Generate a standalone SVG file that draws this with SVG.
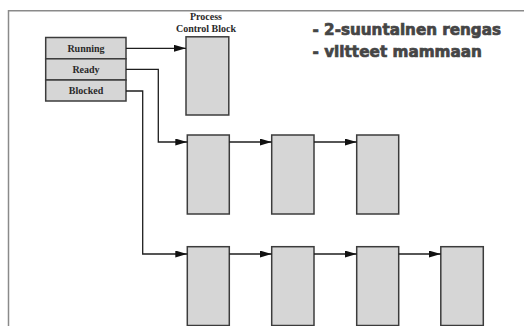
<svg xmlns="http://www.w3.org/2000/svg" width="524" height="326" viewBox="0 0 524 326">
<style>
.frame{fill:none;stroke:#8a8a8a;stroke-width:1.5}
.box{fill:#d6d6d6;stroke:#3c3c3c;stroke-width:1.5}
.row{fill:#d6d6d6;stroke:#3c3c3c;stroke-width:1.5}
.lbl{font-family:"Liberation Serif","Times New Roman",serif;font-weight:bold;font-size:10px;fill:#2a2a2a;text-anchor:middle}
.con{fill:none;stroke:#1e1e1e;stroke-width:1.3}
.note{font-family:"DejaVu Sans",sans-serif;font-weight:bold;font-size:15px;fill:#454545;stroke:#454545;stroke-width:0.7}
</style>
<defs>
<marker id="arr" markerUnits="userSpaceOnUse" markerWidth="12" markerHeight="8" refX="12" refY="3.5" orient="auto">
<path d="M0,0 L12,3.5 L0,7 z" fill="#111"/>
</marker>
</defs>
<rect width="524" height="326" fill="#ffffff"/>
<path class="frame" d="M8.5,326 V10.7 H524"/>
<g id="notes">
<text class="note" x="312.5" y="35" textLength="188.5" lengthAdjust="spacingAndGlyphs">- 2-suuntainen rengas</text>
<text class="note" x="312.5" y="57.3" textLength="169.5" lengthAdjust="spacingAndGlyphs">- viitteet mammaan</text>
</g>
<g id="state-table">
<g id="running"><rect class="row" x="45.7" y="37.5" width="80.3" height="21.3"/><text class="lbl" x="86" y="51.8">Running</text></g>
<g id="ready"><rect class="row" x="45.7" y="58.8" width="80.3" height="21.2"/><text class="lbl" x="86" y="73">Ready</text></g>
<g id="blocked"><rect class="row" x="45.7" y="80" width="80.3" height="21"/><text class="lbl" x="86" y="94.3">Blocked</text></g>
</g>
<g id="pcb">
<text class="lbl" x="206" y="20">Process</text>
<text class="lbl" x="206" y="32.3">Control Block</text>
<rect class="box" x="186" y="36.8" width="42.8" height="78.2"/>
</g>
<g id="ready-1"><rect class="box" x="187.3" y="135" width="42" height="79"/></g>
<g id="ready-2"><rect class="box" x="271.7" y="135" width="42.3" height="79"/></g>
<g id="ready-3"><rect class="box" x="356.7" y="135" width="42" height="79"/></g>
<g id="blocked-1"><rect class="box" x="187.3" y="246.7" width="42" height="78.8"/></g>
<g id="blocked-2"><rect class="box" x="271.7" y="246.7" width="42.3" height="78.8"/></g>
<g id="blocked-3"><rect class="box" x="356.7" y="246.7" width="42" height="78.8"/></g>
<g id="blocked-4"><rect class="box" x="440.8" y="246.7" width="42.5" height="78.8"/></g>
<g id="connectors">
<path class="con" d="M126,48.3 H186" marker-end="url(#arr)"/>
<path class="con" d="M126,69.3 H158.3 V142 H187.3" marker-end="url(#arr)"/>
<path class="con" d="M126,91 H142.7 V254 H187.3" marker-end="url(#arr)"/>
<path class="con" d="M229.3,142 H271.7" marker-end="url(#arr)"/>
<path class="con" d="M314,142 H356.7" marker-end="url(#arr)"/>
<path class="con" d="M229.3,254 H271.7" marker-end="url(#arr)"/>
<path class="con" d="M314,254 H356.7" marker-end="url(#arr)"/>
<path class="con" d="M398.7,254 H440.8" marker-end="url(#arr)"/>
</g>
</svg>
